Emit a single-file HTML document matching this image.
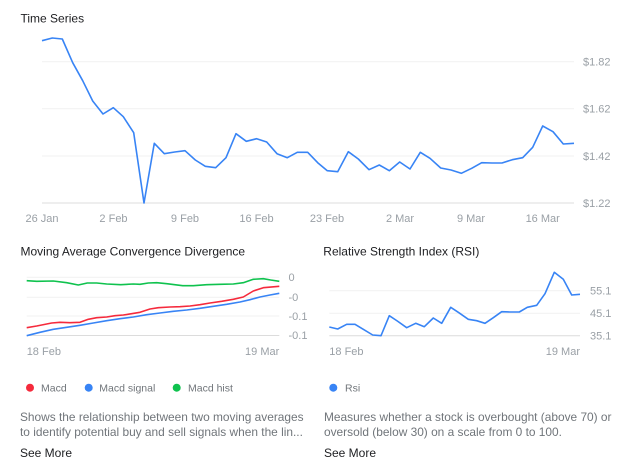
<!DOCTYPE html>
<html><head><meta charset="utf-8"><style>
html,body{margin:0;padding:0;background:#fff;}
body{width:644px;height:476px;overflow:hidden;position:relative;font-family:"Liberation Sans",Arial,sans-serif;}
svg{position:absolute;left:0;top:0;}
</style></head><body>
<svg width="644" height="476" viewBox="0 0 644 476" font-family="Liberation Sans, Arial, sans-serif">
<!-- Time Series grid -->
<g stroke="#f1f1f1" stroke-width="1">
<line x1="42" y1="61.7" x2="574" y2="61.7"/>
<line x1="42" y1="108.7" x2="574" y2="108.7"/>
<line x1="42" y1="156" x2="574" y2="156"/>
</g>
<line x1="42" y1="203" x2="574" y2="203" stroke="#dcdcdc" stroke-width="1"/>
<g fill="#9aa0a6" font-size="11">
<text x="583" y="65.5">$1.82</text>
<text x="583" y="112.5">$1.62</text>
<text x="583" y="160">$1.42</text>
<text x="583" y="207">$1.22</text>
</g>
<g fill="#9aa0a6" font-size="11" text-anchor="middle">
<text x="42" y="222">26 Jan</text>
<text x="113.5" y="222">2 Feb</text>
<text x="185" y="222">9 Feb</text>
<text x="256.5" y="222">16 Feb</text>
<text x="327" y="222">23 Feb</text>
<text x="400" y="222">2 Mar</text>
<text x="471" y="222">9 Mar</text>
<text x="542.7" y="222">16 Mar</text>
</g>
<polyline fill="none" stroke="#3884f5" stroke-width="1.6" stroke-linejoin="round" points="42,40.7 52.3,38 62.3,39 72.7,62.7 82.7,80.7 92.7,101 103,114 113.3,107.7 123.3,116.7 133.7,132.7 144,203 154.3,143.3 164.3,153.7 174.7,152 185,150.7 195.3,160 205.3,166.3 215.7,167.7 226,157.7 236,133.7 246.3,141.3 256.7,138.7 266.7,142 277,153.7 287.3,157.7 297.3,152.3 307.7,152.3 317.7,162.7 327.3,170.7 337.7,171.7 348.3,151.7 358.3,159 369,169.7 379.3,165 389.3,170.7 399.7,162 410,169 420.3,152.3 430,158.3 440.7,168 451,170 461.3,173.3 471.7,168.3 481.7,162.7 492,163 502,163 512.3,159.7 522.7,157.7 532.7,147.3 542.7,126 553,131.7 563.3,144 574,143.3"/>

<!-- MACD -->
<g stroke="#f1f1f1" stroke-width="1">
<line x1="26.7" y1="277.3" x2="279.3" y2="277.3"/>
<line x1="26.7" y1="297.3" x2="279.3" y2="297.3"/>
<line x1="26.7" y1="316" x2="279.3" y2="316"/>
</g>
<line x1="26.7" y1="335.5" x2="279.3" y2="335.5" stroke="#dcdcdc" stroke-width="1"/>
<g fill="#9aa0a6" font-size="11">
<text x="288.5" y="281">0</text>
<text x="288.5" y="301">-0</text>
<text x="288.5" y="320">-0.1</text>
<text x="288.5" y="339">-0.1</text>
</g>
<text x="26.7" y="355" fill="#9aa0a6" font-size="11">18 Feb</text>
<text x="279.3" y="355" fill="#9aa0a6" font-size="11" text-anchor="end">19 Mar</text>
<polyline fill="none" stroke="#0fc24e" stroke-width="1.6" stroke-linejoin="round" points="26.7,280.7 36.7,281.3 53.3,281 66.7,282.7 78.3,285 87.3,283 96.7,283 106.7,284 120.7,284.7 133.3,284 140,284.3 148.3,283 156.7,282.7 166.7,283.7 182.7,285.7 193.3,285.7 206.7,284.7 220,284.3 233.3,284 243.3,282.7 253.3,279.3 263.3,278.7 270.7,280 279.3,281.3"/>
<polyline fill="none" stroke="#f52a3c" stroke-width="1.6" stroke-linejoin="round" points="26.7,327.7 36.7,326 51.7,323 60,322.3 70,322.7 80,322.3 88.3,319.3 96.7,317.7 106.7,317 115,315.7 123.3,315 131.7,313.7 140,312.3 150,309 158.3,307.7 170,307 180,306.7 190,306 200,304.7 210,303 221.7,301.3 233.3,299.3 243.3,297 253.3,291 263.3,287.7 279.3,286.3"/>
<polyline fill="none" stroke="#3884f5" stroke-width="1.6" stroke-linejoin="round" points="26.7,335.7 40,332.3 53.3,329.3 66.7,327.3 80,325.3 93.3,323 106.7,320.7 120,318.7 133.3,317 146.7,314.7 160,313 173.3,311.3 186.7,310 200,308.3 213.3,306.3 226.7,304.3 240,302 250,299.7 260,297 270,295 279.3,293.3"/>

<!-- RSI -->
<g stroke="#f1f1f1" stroke-width="1">
<line x1="329.3" y1="290.7" x2="580" y2="290.7"/>
<line x1="329.3" y1="313.3" x2="580" y2="313.3"/>
</g>
<line x1="329.3" y1="335.7" x2="580" y2="335.7" stroke="#dcdcdc" stroke-width="1"/>
<g fill="#9aa0a6" font-size="11">
<text x="590" y="294.5">55.1</text>
<text x="590" y="317">45.1</text>
<text x="590" y="339.5">35.1</text>
</g>
<text x="329.3" y="355" fill="#9aa0a6" font-size="11">18 Feb</text>
<text x="580" y="355" fill="#9aa0a6" font-size="11" text-anchor="end">19 Mar</text>
<polyline fill="none" stroke="#3884f5" stroke-width="1.6" stroke-linejoin="round" points="329.3,327 337.7,329 346.7,324.3 355,324.3 363.3,329.3 372.7,335 381,335.7 389.3,315.7 397.3,321 406.7,327.7 415.7,323.3 424.3,326.7 433.3,318 441.7,323.3 450.7,307.3 458.3,312.3 468.3,319.3 476.7,320.7 485,323.3 493.3,317.7 501.7,311.7 510,312 519.3,312 527.3,307.3 536.7,305.3 545,293.7 554.3,272.3 563.3,279.3 571.7,295 580,294.3"/>

<!-- legends -->
<circle cx="30" cy="387.7" r="4" fill="#f52a3c"/>
<circle cx="88.7" cy="387.7" r="4" fill="#3884f5"/>
<circle cx="176.7" cy="387.7" r="4" fill="#0fc24e"/>
<circle cx="333.3" cy="387.7" r="4" fill="#3884f5"/>
<g fill="#70757a" font-size="10.5">
<text x="41" y="391.5">Macd</text>
<text x="99.3" y="391.5">Macd signal</text>
<text x="188" y="391.5">Macd hist</text>
<text x="345" y="391.5">Rsi</text>
</g>
<!-- titles -->
<g fill="#202124" font-size="12">
<text x="20.5" y="22.5">Time Series</text>
<text x="20.5" y="255.5">Moving Average Convergence Divergence</text>
<text x="323.3" y="255.5">Relative Strength Index (RSI)</text>
</g>
<!-- descriptions -->
<g fill="#70757a" font-size="11.9">
<text x="20" y="421">Shows the relationship between two moving averages</text>
<text x="20" y="436">to identify potential buy and sell signals when the lin...</text>
<text x="324" y="421">Measures whether a stock is overbought (above 70) or</text>
<text x="324" y="436">oversold (below 30) on a scale from 0 to 100.</text>
</g>
<g fill="#202124" font-size="12">
<text x="20" y="457">See More</text>
<text x="324" y="457">See More</text>
</g>
</svg>
</body></html>
